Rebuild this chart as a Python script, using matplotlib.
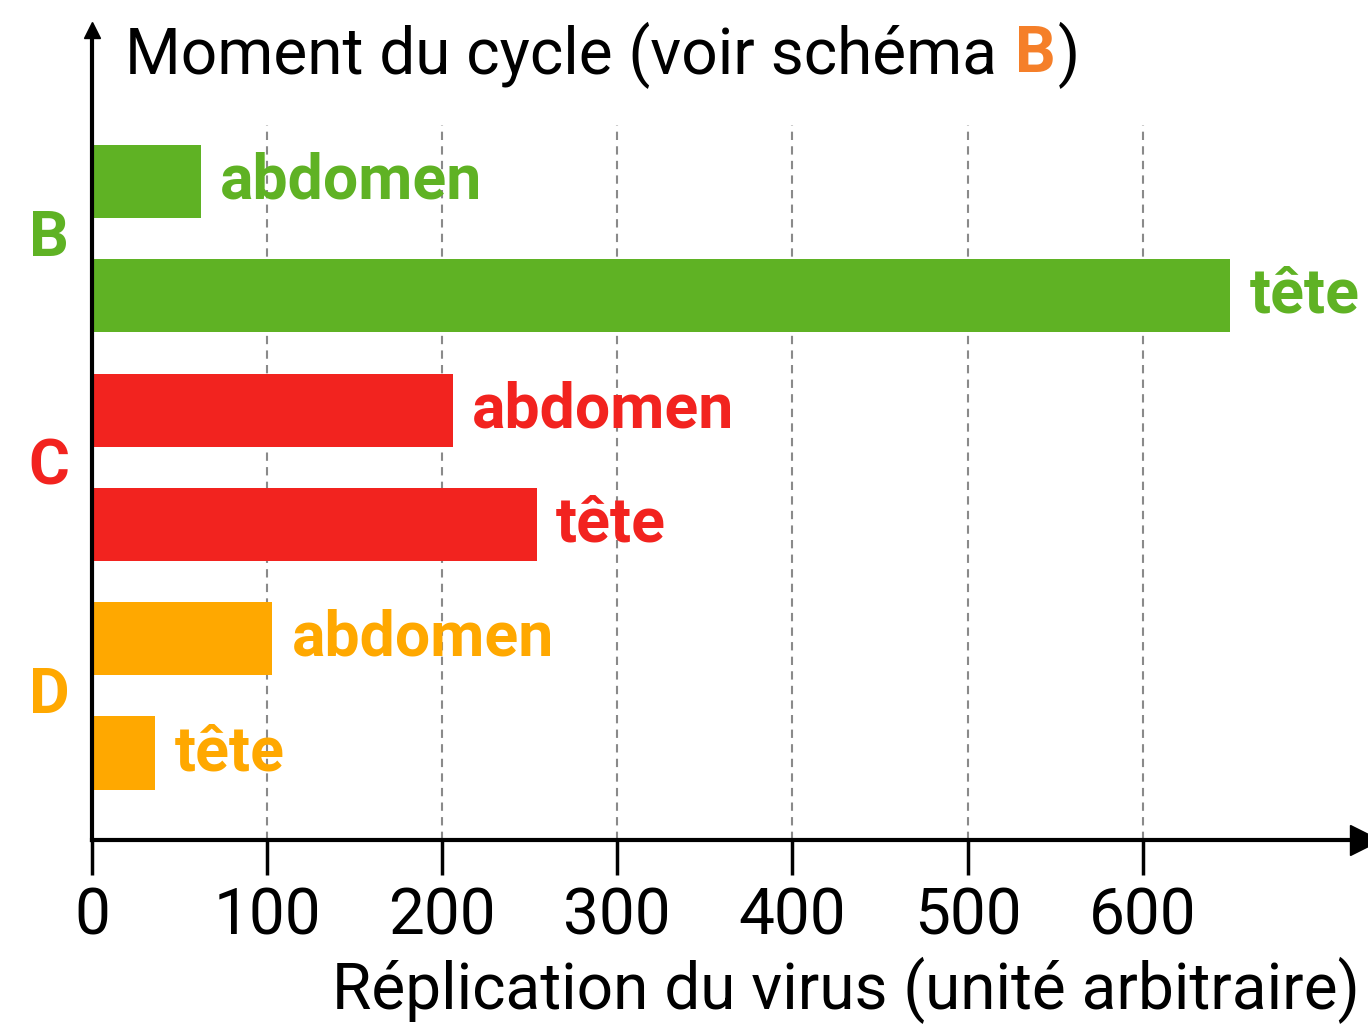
import matplotlib
matplotlib.use("Agg")
import matplotlib.pyplot as plt

# data
groups = ["B", "C", "D"]
group_colors = ["#5fb224", "#f2231f", "#ffa800"]
organs = ["abdomen", "tête"]
values = [[62, 650], [206, 254], [103, 36]]
xticks = [0, 100, 200, 300, 400, 500, 600]
title = "Moment du cycle (voir schéma "
xlabel = "Réplication du virus (unité arbitraire)"

plt.rcParams["font.family"] = ["Roboto", "DejaVu Sans"]

fig = plt.figure(figsize=(13.68, 10.25), dpi=100)
ax = fig.add_axes([92 / 1368, 1 - 840 / 1025, (1365 - 92) / 1368, 810 / 1025])
ax.set_xlim(0, 727)
ax.set_ylim(5.761, -1.325)

for x in xticks[1:]:
    ax.axvline(x, ymax=0.883, color="#8a8a8a", ls=(0, (4, 3)), lw=1.5, zorder=0)

pos = 0
for g, col, vals in zip(groups, group_colors, values):
    for organ, v in zip(organs, vals):
        ax.barh(pos, v, height=0.64, color=col, zorder=2)
        ax.text(v + 11, pos, organ, color=col, fontsize=45, fontweight="bold",
                va="center", ha="left")
        pos += 1
    ax.text(-13, pos - 1.5, g, color=col, fontsize=45, fontweight="bold",
            va="center", ha="right", clip_on=False)

for s in ("top", "right"):
    ax.spines[s].set_visible(False)
ax.spines["left"].set_linewidth(3)
ax.spines["bottom"].set_linewidth(3)
ax.set_yticks([])
ax.set_xticks(xticks)
ax.tick_params(axis="x", length=25, width=2.5, labelsize=46, pad=8)
ax.plot(1, 0, ">k", ms=22, transform=ax.transAxes, clip_on=False)
ax.plot(0, 1, "^k", ms=12, transform=ax.transAxes, clip_on=False)

ty = 1 - 55 / 1025
t1 = fig.text(125 / 1368, ty, title, fontsize=46, va="center", ha="left")
fig.canvas.draw()
bb = t1.get_window_extent()
t2 = fig.text((bb.x1 + 2) / fig.bbox.width, ty, "B", fontsize=46, va="center",
              ha="left", color="#f57f29", fontweight="bold")
fig.canvas.draw()
bb2 = t2.get_window_extent()
fig.text((bb2.x1 + 2) / fig.bbox.width, ty, ")", fontsize=46, va="center", ha="left")
fig.text(1360 / 1368, 1 - 990 / 1025, xlabel, fontsize=46, va="center", ha="right")

fig.savefig("out.png", dpi=100)
